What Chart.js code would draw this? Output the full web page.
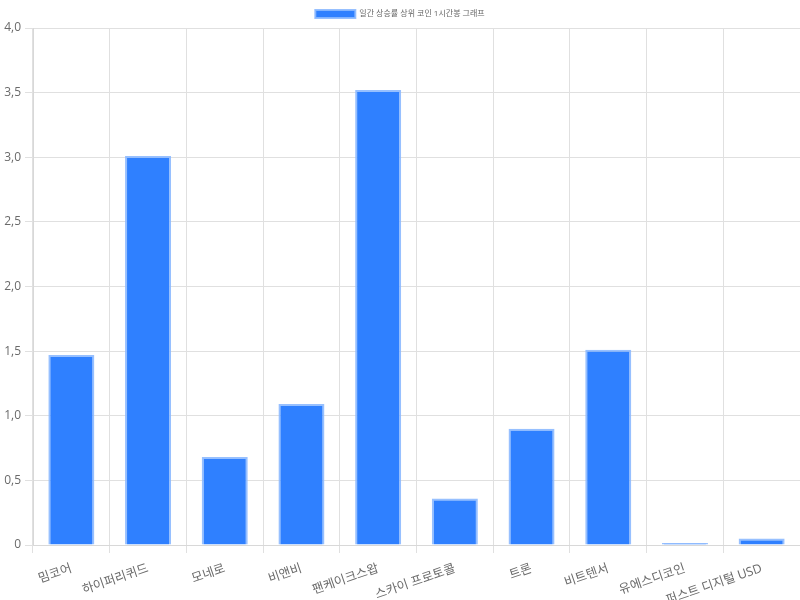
<!DOCTYPE html>
<html><head><meta charset="utf-8">
<script src="https://cdn.jsdelivr.net/npm/chart.js@4/dist/chart.umd.min.js"></script>
<style>html,body{margin:0;padding:0;background:#fff}#wrap{width:800px;height:600px}</style>
</head><body><div id="wrap"><canvas id="c"></canvas></div>
<script>
const categories = ["밈코어","하이퍼리퀴드","모네로","비앤비","팬케이크스왑","스카이 프로토콜","트론","비트텐서","유에스디코인","퍼스트 디지털 USD"];
const seriesName = "일간 상승률 상위 코인 1시간봉 그래프";
const values = [1.47, 3.01, 0.68, 1.09, 3.52, 0.36, 0.90, 1.51, 0.015, 0.05];
const yTicks = [0, 0.5, 1.0, 1.5, 2.0, 2.5, 3.0, 3.5, 4.0];

Chart.defaults.font.family = "'Open Sans','Noto Sans CJK KR',sans-serif";
Chart.defaults.color = '#666';
new Chart(document.getElementById('c'), {
  type: 'bar',
  data: { labels: categories, datasets: [{
    label: seriesName, data: values,
    backgroundColor: '#2f80ff', borderColor: 'rgba(140,185,255,0.9)', borderWidth: 2,
    barPercentage: 0.75, categoryPercentage: 0.8
  }]},
  options: {
    responsive: true, maintainAspectRatio: false, animation: false,
    layout: { padding: { left: 0, right: 0, top: 0, bottom: 0 } },
    plugins: { legend: { labels: { font: { size: 8 }, boxWidth: 40, boxHeight: 8, color: '#666' } }, tooltip: { enabled: false } },
    scales: {
      x: { grid: { color: '#e0e0e0', offset: true, tickLength: 8 }, border: { color: '#d8d8d8' },
           afterFit: (s) => { s.height = 55; },
           ticks: { font: { size: 12.5 }, padding: 8, minRotation: 19, maxRotation: 19, autoSkip: false, color: '#6a6a6a' } },
      y: { min: 0, max: 4, grid: { color: '#e0e0e0', tickLength: 8 }, border: { color: '#d8d8d8' },
           afterFit: (s) => { s.width = 33; },
           afterBuildTicks: (ax) => { ax.ticks = yTicks.map(v => ({ value: v })); },
           ticks: { font: { size: 12 }, padding: 4, color: '#6a6a6a', callback: v => v === 0 ? '0' : v.toFixed(1).replace('.', ',') } }
    }
  }
});
</script></body></html>
